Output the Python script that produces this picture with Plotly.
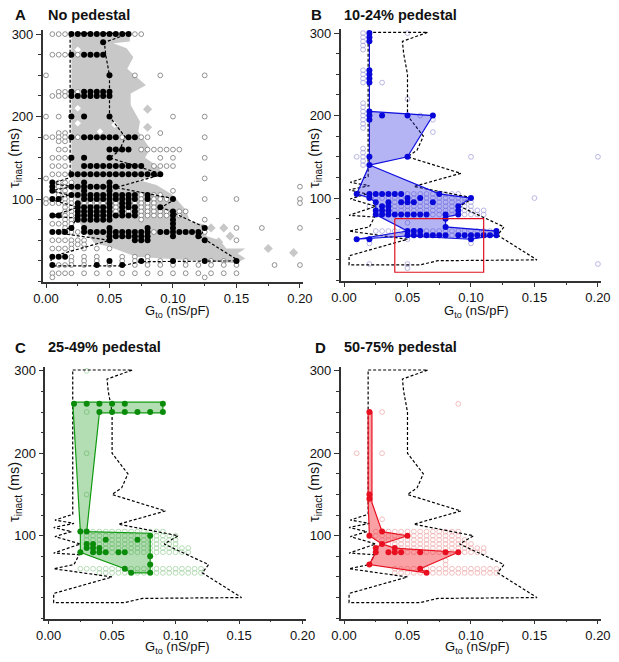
import plotly.graph_objects as go

# dashed outline of the no-pedestal region, repeated on all panels
OUTLINE_G = [0.019, 0.066, 0.046, 0.047, 0.05, 0.05, 0.0625, 0.0575, 0.05, 0.092, 0.055, 0.102, 0.091, 0.126, 0.121,
             0.152, 0.074, 0.06, 0.004, 0.004, 0.05, 0.004, 0.02, 0.024, 0.004, 0.025, 0.005, 0.018, 0.004, 0.02,
             0.005, 0.019, 0.019]
OUTLINE_TAU = [301, 301, 290, 275, 250, 200, 175, 158, 150, 130, 114, 100, 90, 65, 55,
               25, 24, 19, 19, 30, 50, 60, 65, 77, 79, 90, 99, 105, 110, 115,
               119, 126, 301]

# grey region of panel A
GREY_G = [0.02, 0.066, 0.066, 0.053, 0.0635, 0.0688, 0.064, 0.0787, 0.0667, 0.0667, 0.074, 0.0727, 0.082, 0.078, 0.087,
          0.0924, 0.0727, 0.087, 0.10, 0.11, 0.1134, 0.125, 0.1265, 0.137, 0.142, 0.157, 0.151, 0.157, 0.15, 0.098,
          0.071, 0.05, 0.0386, 0.03, 0.024, 0.024, 0.02]
GREY_TAU = [302, 302, 291, 289, 283, 272, 258, 238, 228, 214, 194, 182, 161, 150, 141,
            130, 123, 117, 105, 87, 73, 69, 55, 50, 40, 40, 34, 28, 22, 27,
            30, 42, 46, 62, 78, 98, 105]
BLOB_G = [0.08, 0.08, 0.13, 0.14, 0.145, 0.136, 0.175, 0.195]
BLOB_TAU = [209, 187, 65, 65, 55, 48, 40, 35]
HOLE_G = [0.025, 0.025, 0.025, 0.0425, 0.054, 0.025]
HOLE_TAU = [281, 210, 192, 182, 190, 230]

# panel A, filled = with dome
A_FILLED_TAU = [300, 290, 275, 250, 230, 225, 200, 175, 160, 150, 140, 130, 120, 115, 110, 105, 100, 95, 90, 85, 80,
                75, 70, 65, 60, 55, 50, 30, 25, 20]
A_FILLED_G = [
    [0.02, 0.025, 0.03, 0.035, 0.04, 0.045, 0.05, 0.055, 0.06, 0.065],
    [0.045],
    [0.02, 0.03, 0.035, 0.04, 0.045],
    [0.05],
    [0.02, 0.03, 0.035, 0.04, 0.045, 0.05],
    [0.02, 0.025, 0.03, 0.035, 0.04, 0.045, 0.05],
    [0.02, 0.03, 0.05],
    [0.02, 0.03, 0.035, 0.04, 0.045, 0.05, 0.055, 0.065, 0.07],
    [0.05, 0.055, 0.06, 0.065],
    [0.02, 0.03, 0.05],
    [0.03, 0.035, 0.04, 0.045, 0.05, 0.055, 0.06, 0.065, 0.07, 0.075],
    [0.02, 0.025, 0.03, 0.035, 0.04, 0.045, 0.05, 0.055, 0.06, 0.065, 0.07, 0.075, 0.08, 0.085, 0.09],
    [0.005, 0.03, 0.05],
    [0.005, 0.02, 0.025, 0.03, 0.035, 0.04, 0.045, 0.05, 0.055],
    [0.005, 0.03, 0.05],
    [0.02, 0.025, 0.03, 0.035, 0.04, 0.045, 0.05, 0.055, 0.06, 0.065, 0.07, 0.08],
    [0.005, 0.01, 0.03, 0.035, 0.04, 0.045, 0.05, 0.055, 0.06, 0.065, 0.07, 0.08, 0.10],
    [0.025, 0.05, 0.06, 0.065],
    [0.025, 0.03, 0.035, 0.04, 0.045, 0.05, 0.06, 0.065, 0.07, 0.09],
    [0.025, 0.03, 0.035, 0.04, 0.045, 0.05, 0.06, 0.07, 0.10],
    [0.005, 0.01, 0.025, 0.03, 0.035, 0.04, 0.045, 0.05, 0.055, 0.06, 0.065, 0.07, 0.10],
    [0.025, 0.03, 0.035, 0.04, 0.045, 0.05, 0.10],
    [0.10],
    [0.02, 0.03, 0.05, 0.08, 0.10, 0.125],
    [0.005, 0.01, 0.015, 0.03, 0.035, 0.04, 0.045, 0.05, 0.055, 0.06, 0.065, 0.07, 0.075, 0.08, 0.09, 0.095, 0.10,
     0.105, 0.11, 0.115, 0.12],
    [0.05, 0.055, 0.06, 0.065, 0.07, 0.075, 0.08, 0.10, 0.12],
    [0.05, 0.07, 0.075, 0.08, 0.125],
    [0.005, 0.01, 0.015],
    [0.05, 0.075, 0.10, 0.125, 0.15],
    [0.005, 0.04, 0.06],
]
A_OPEN_TAU = [300, 275, 250, 230, 225, 200, 180, 175, 170, 160, 150, 140, 130, 125, 120, 115, 110, 105, 100, 95, 90,
              85, 80, 75, 70, 65, 60, 50, 45, 40, 30, 25, 20, 10, 5]
A_OPEN_G = [
    [0.005, 0.01, 0.015, 0.07, 0.075],
    [0.005, 0.01, 0.015, 0.025],
    [0.0, 0.07, 0.09, 0.125],
    [0.01, 0.015, 0.025],
    [0.005, 0.01, 0.015],
    [0.0, 0.01, 0.10, 0.125],
    [0.01, 0.015, 0.09],
    [0.0, 0.005, 0.01, 0.015, 0.025, 0.06, 0.075, 0.08, 0.125],
    [0.01, 0.015],
    [0.01, 0.015, 0.075, 0.08, 0.085, 0.09, 0.095, 0.10, 0.105],
    [0.005, 0.01, 0.015, 0.09, 0.10, 0.125],
    [0.005, 0.01, 0.015, 0.085, 0.09, 0.095, 0.10],
    [0.005, 0.01, 0.015],
    [0.0, 0.125],
    [0.01, 0.015, 0.02],
    [0.01, 0.015, 0.2],
    [0.01, 0.015, 0.10],
    [0.01, 0.015, 0.075, 0.085, 0.09],
    [0.0, 0.015, 0.02, 0.075, 0.085, 0.09, 0.095, 0.125, 0.15, 0.2],
    [0.0, 0.005, 0.01, 0.015, 0.02, 0.03, 0.035, 0.04, 0.045, 0.055, 0.07, 0.075, 0.08, 0.085, 0.2],
    [0.015, 0.02, 0.055, 0.075, 0.08, 0.085],
    [0.015, 0.02, 0.055, 0.065, 0.075, 0.08, 0.085, 0.09, 0.095, 0.105, 0.11],
    [0.015, 0.02, 0.075, 0.08, 0.085, 0.09, 0.095, 0.105],
    [0.015, 0.02, 0.075, 0.125],
    [0.005, 0.01, 0.015, 0.02],
    [0.015, 0.15, 0.17, 0.2],
    [0.02, 0.025, 0.085, 0.125],
    [0.005, 0.01, 0.015, 0.02, 0.025, 0.03, 0.15],
    [0.02, 0.025, 0.03],
    [0.005, 0.01, 0.015, 0.02, 0.03, 0.04, 0.05],
    [0.02, 0.03, 0.04, 0.06, 0.07, 0.08],
    [0.02, 0.03, 0.04, 0.06, 0.07, 0.08, 0.09, 0.11, 0.13, 0.14],
    [0.01, 0.015, 0.02, 0.03, 0.05, 0.07, 0.08, 0.09, 0.10, 0.11, 0.12, 0.13, 0.14, 0.15, 0.18, 0.2],
    [0.005, 0.01, 0.015, 0.02, 0.03, 0.04, 0.05, 0.06, 0.07, 0.08, 0.09, 0.10, 0.11, 0.12, 0.13, 0.14, 0.15],
    [0.005, 0.125],
]

# panel B
B_FILLED_TAU = [300, 295, 290, 255, 250, 245, 240, 205, 200, 195, 150, 140, 105, 100, 95, 90, 85, 80, 75, 65, 60, 55, 50]
B_FILLED_G = [
    [0.02], [0.02], [0.02], [0.02], [0.02], [0.02], [0.02], [0.02],
    [0.02, 0.03, 0.05, 0.07],
    [0.02],
    [0.02, 0.05],
    [0.02],
    [0.01, 0.02, 0.025, 0.03, 0.035, 0.04, 0.045, 0.075],
    [0.02, 0.05, 0.06, 0.10],
    [0.025, 0.035, 0.045, 0.05, 0.055, 0.07],
    [0.03, 0.035, 0.09],
    [0.025, 0.03, 0.035, 0.09],
    [0.025, 0.03, 0.035, 0.04, 0.045, 0.05, 0.055, 0.06, 0.065, 0.08, 0.09],
    [0.08],
    [0.08],
    [0.05, 0.055, 0.06, 0.12],
    [0.05, 0.055, 0.06, 0.065, 0.07, 0.075, 0.08, 0.09, 0.095, 0.10, 0.105, 0.11, 0.115, 0.12],
    [0.01, 0.02, 0.10],
]
B_OPEN_TAU = [300, 295, 290, 285, 280, 255, 250, 245, 240, 220, 215, 210, 205, 200, 195, 190, 185, 180, 160, 155, 150,
              145, 140, 105, 100, 95, 90, 85, 80, 70, 60, 55, 50, 45, 20, 15]
B_OPEN_G = [
    [0.015, 0.05], [0.015], [0.015], [0.015], [0.015],
    [0.015], [0.015], [0.015], [0.015, 0.03],
    [0.05], [0.015], [0.015], [0.015], [0.015, 0.06], [0.015, 0.07], [0.015], [0.015], [0.07],
    [0.015], [0.015], [0.01, 0.015, 0.10, 0.20], [0.015], [0.015],
    [0.05, 0.055, 0.06, 0.065, 0.07, 0.08, 0.085, 0.09],
    [0.025, 0.03, 0.035, 0.04, 0.045, 0.055, 0.065, 0.07, 0.075, 0.08, 0.085, 0.09, 0.095, 0.15],
    [0.04, 0.06, 0.065, 0.075, 0.08, 0.085, 0.09, 0.095, 0.10],
    [0.02, 0.04, 0.045, 0.05, 0.055, 0.06, 0.065, 0.07, 0.075, 0.08, 0.085, 0.095, 0.10],
    [0.04, 0.045, 0.05, 0.055, 0.06, 0.065, 0.07, 0.075, 0.08, 0.085, 0.095, 0.10, 0.105, 0.11],
    [0.07, 0.075, 0.085, 0.095, 0.10, 0.105, 0.11],
    [0.05],
    [0.025, 0.03, 0.035, 0.04, 0.045, 0.065, 0.07, 0.075, 0.08, 0.085, 0.09, 0.095, 0.10, 0.105, 0.11, 0.115],
    [0.085],
    [0.05],
    [0.02, 0.10],
    [0.02, 0.05, 0.20],
    [0.05],
]

# panel C
C_FILLED_TAU = [260, 250, 105, 100, 95, 90, 85, 80, 75, 65, 60, 55]
C_FILLED_G = [
    [0.02, 0.03, 0.04, 0.05, 0.06, 0.09],
    [0.04, 0.05, 0.06, 0.07, 0.08, 0.09],
    [0.025, 0.03],
    [0.08],
    [0.045, 0.07],
    [0.03, 0.035],
    [0.03, 0.035, 0.04],
    [0.025, 0.035, 0.04, 0.045, 0.055, 0.06],
    [0.08],
    [0.08],
    [0.06],
    [0.065, 0.08],
]
C_OPEN_TAU = [300, 250, 200, 150, 105, 100, 95, 90, 85, 80, 60, 55]
C_OPEN_G = [
    [0.03], [0.03], [0.03], [0.03],
    [0.035, 0.04, 0.045, 0.05, 0.055, 0.06, 0.065, 0.07, 0.075, 0.08, 0.085, 0.09],
    [0.03, 0.035, 0.04, 0.045, 0.05, 0.055, 0.06, 0.065, 0.07, 0.075, 0.085, 0.09, 0.095, 0.10],
    [0.03, 0.035, 0.04, 0.05, 0.055, 0.06, 0.065, 0.075, 0.08, 0.085, 0.09, 0.095, 0.10],
    [0.04, 0.045, 0.05, 0.055, 0.06, 0.065, 0.07, 0.075, 0.08, 0.085, 0.09, 0.095, 0.10],
    [0.045, 0.05, 0.055, 0.06, 0.065, 0.07, 0.075, 0.08, 0.085, 0.09, 0.095, 0.10, 0.105, 0.11],
    [0.05, 0.065, 0.07, 0.075, 0.08, 0.085, 0.09, 0.095, 0.10, 0.105, 0.11],
    [0.025, 0.03, 0.035, 0.04, 0.045, 0.05, 0.055, 0.065, 0.07, 0.075, 0.08, 0.085, 0.09, 0.095, 0.10, 0.105, 0.11,
     0.115, 0.12],
    [0.04, 0.045, 0.05, 0.055, 0.06, 0.07, 0.075, 0.085, 0.09, 0.095, 0.10, 0.105, 0.11, 0.115, 0.12],
]

# panel D
D_FILLED_TAU = [250, 150, 145, 105, 100, 90, 85, 80, 65, 60, 55]
D_FILLED_G = [
    [0.02],
    [0.02],
    [0.02],
    [0.03],
    [0.02, 0.05],
    [0.03],
    [0.025, 0.04],
    [0.025, 0.035, 0.04, 0.045, 0.06, 0.08, 0.09],
    [0.02],
    [0.06],
    [0.065],
]
D_OPEN_TAU = [260, 250, 200, 120, 105, 100, 95, 90, 85, 80, 70, 65, 60, 55]
D_OPEN_G = [
    [0.09], [0.03], [0.01, 0.03], [0.03],
    [0.025, 0.035, 0.04, 0.045, 0.05, 0.055, 0.06, 0.065, 0.07, 0.075, 0.08, 0.085, 0.09],
    [0.025, 0.03, 0.035, 0.04, 0.045, 0.055, 0.06, 0.065, 0.07, 0.075, 0.08, 0.085, 0.09],
    [0.03, 0.035, 0.04, 0.045, 0.05, 0.055, 0.06, 0.065, 0.07, 0.075, 0.08, 0.085, 0.09, 0.095],
    [0.035, 0.04, 0.045, 0.05, 0.055, 0.06, 0.065, 0.07, 0.075, 0.08, 0.085, 0.09, 0.095, 0.10],
    [0.045, 0.05, 0.055, 0.06, 0.065, 0.07, 0.075, 0.08, 0.085, 0.09, 0.095, 0.10, 0.105, 0.11],
    [0.05, 0.055, 0.065, 0.07, 0.075, 0.085, 0.095, 0.10, 0.105, 0.11],
    [0.08],
    [0.08],
    [0.04, 0.045, 0.05, 0.055, 0.065, 0.07, 0.075, 0.08, 0.085, 0.09, 0.095, 0.10, 0.105, 0.11, 0.115, 0.12],
    [0.04, 0.045, 0.05, 0.055, 0.06, 0.07, 0.075, 0.08, 0.085, 0.09, 0.095, 0.10, 0.105, 0.11, 0.115, 0.12],
]

# shaded envelopes
B_ENV_G = [0.02, 0.02, 0.07, 0.05, 0.02, 0.075, 0.10, 0.09, 0.09, 0.08, 0.08, 0.12, 0.12, 0.10, 0.05, 0.01, 0.05,
           0.025, 0.025, 0.02, 0.01, 0.02, 0.02, 0.02]
B_ENV_TAU = [300, 205, 200, 150, 140, 105, 100, 90, 80, 77, 65, 60, 55, 50, 54, 50, 60,
             80, 95, 100, 105, 140, 205, 300]
C_ENV_G = [0.019, 0.09, 0.09, 0.04, 0.03, 0.08, 0.08, 0.065, 0.06, 0.025, 0.025, 0.019]
C_ENV_TAU = [262, 262, 249, 249, 105, 103, 55, 55, 60, 80, 105, 262]
D_ENV_G = [0.019, 0.022, 0.022, 0.03, 0.05, 0.03, 0.04, 0.09, 0.06, 0.065, 0.02, 0.025, 0.025, 0.03, 0.02, 0.019, 0.019]
D_ENV_TAU = [250, 250, 140, 105, 100, 90, 85, 80, 60, 55, 65, 80, 85, 90, 100, 140, 250]
# red box on panel B
BOX_G = [0.04, 0.11, 0.11, 0.04, 0.04]
BOX_TAU = [75, 75, 10, 10, 75]

PANEL_TITLES = ["No pedestal", "10-24% pedestal", "25-49% pedestal", "50-75% pedestal"]
PANEL_LETTERS = ["A", "B", "C", "D"]
X_TITLE = "G<sub>to</sub> (nS/pF)"
Y_TITLE = "τ<sub>inact</sub> (ms)"
X_TICKS = [0, 0.05, 0.10, 0.15, 0.20]
Y_TICKS = [100, 200, 300]

W, H = 619, 662
FONT = "Liberation Sans"
AXCOL = "#333333"


def flat(taus, rows):
    xs, ys = [], []
    for t, row in zip(taus, rows):
        for g in row:
            xs.append(g)
            ys.append(t)
    return xs, ys


def outline(ax):
    return go.Scatter(x=OUTLINE_G, y=OUTLINE_TAU, mode="lines", line=dict(color="black", width=1.2, dash="3px,2px"),
                      xaxis="x" + ax, yaxis="y" + ax, hoverinfo="skip", showlegend=False)


def dots(xs, ys, ax, color, size=6, open_dot=False, fill="rgba(0,0,0,0)"):
    if open_dot:
        mk = dict(size=size, color=fill, line=dict(color=color, width=0.8))
    else:
        mk = dict(size=size, color=color)
    return go.Scatter(x=xs, y=ys, mode="markers", marker=mk, xaxis="x" + ax, yaxis="y" + ax,
                      hoverinfo="skip", showlegend=False)


def envelope(xs, ys, ax, line, fill):
    return go.Scatter(x=xs, y=ys, mode="lines", fill="toself", fillcolor=fill, line=dict(color=line, width=1.2),
                      xaxis="x" + ax, yaxis="y" + ax, hoverinfo="skip", showlegend=False)


def label(text, px, py, size, angle=0, anchor="center"):
    return dict(text=text, x=px / W, y=1 - py / H, xref="paper", yref="paper", xanchor=anchor, yanchor="middle",
                showarrow=False, textangle=angle, font=dict(family=FONT, size=size, color="#111111"))


fig = go.Figure()

# A
fig.add_trace(go.Scatter(x=GREY_G, y=GREY_TAU, mode="lines", fill="toself", fillcolor="#c8c8c8", line=dict(width=0),
                         xaxis="x", yaxis="y", hoverinfo="skip", showlegend=False))
fig.add_trace(go.Scatter(x=BLOB_G, y=BLOB_TAU, mode="markers", marker=dict(symbol="diamond", size=7, color="#c8c8c8"),
                         xaxis="x", yaxis="y", hoverinfo="skip", showlegend=False))
fig.add_trace(go.Scatter(x=HOLE_G, y=HOLE_TAU, mode="markers", marker=dict(symbol="diamond", size=5, color="white"),
                         xaxis="x", yaxis="y", hoverinfo="skip", showlegend=False))
x, y = flat(A_OPEN_TAU, A_OPEN_G)
fig.add_trace(dots(x, y, "", "#777777", 4.8, True, "white"))
fig.add_trace(outline(""))
x, y = flat(A_FILLED_TAU, A_FILLED_G)
fig.add_trace(dots(x, y, "", "black"))

# B
x, y = flat(B_OPEN_TAU, B_OPEN_G)
fig.add_trace(dots(x, y, "2", "#a8a6dc", 4.8, True))
fig.add_trace(outline("2"))
fig.add_trace(envelope(B_ENV_G, B_ENV_TAU, "2", "#1010e0", "rgba(40,40,225,0.35)"))
x, y = flat(B_FILLED_TAU, B_FILLED_G)
fig.add_trace(dots(x, y, "2", "#0808d8"))
fig.add_trace(go.Scatter(x=BOX_G, y=BOX_TAU, mode="lines", line=dict(color="#e01020", width=1.2), xaxis="x2",
                         yaxis="y2", hoverinfo="skip", showlegend=False))

# C
x, y = flat(C_OPEN_TAU, C_OPEN_G)
fig.add_trace(dots(x, y, "3", "#a6d4a6", 4.8, True))
fig.add_trace(outline("3"))
fig.add_trace(envelope(C_ENV_G, C_ENV_TAU, "3", "#109a10", "rgba(20,150,20,0.32)"))
x, y = flat(C_FILLED_TAU, C_FILLED_G)
fig.add_trace(dots(x, y, "3", "#0a8c0a"))

# D
x, y = flat(D_OPEN_TAU, D_OPEN_G)
fig.add_trace(dots(x, y, "4", "#f0b0b0", 4.8, True))
fig.add_trace(outline("4"))
fig.add_trace(envelope(D_ENV_G, D_ENV_TAU, "4", "#e81020", "rgba(240,30,40,0.42)"))
x, y = flat(D_FILLED_TAU, D_FILLED_G)
fig.add_trace(dots(x, y, "4", "#e81020"))

# panel rectangles in page pixels: left, right, top, bottom
rects = [(42.7, 303, 30, 282), (340.7, 601, 29, 281), (45.3, 305.6, 366.7, 618.7), (340.7, 601, 366.7, 618.7)]
letter_xs = [13, 309, 13, 313]
title_xs = [46, 342, 46, 342]
title_ys = [15, 15, 347, 347]
xtitle_pos = [(177, 311), (476, 311), (177, 647), (477.5, 647)]
ytitle_pos = [(15, 158), (315, 158), (15, 492), (315, 492)]

layout = {}
annos = []
for i, (l, r, t, b) in enumerate(rects):
    sfx = "" if i == 0 else str(i + 1)
    layout["xaxis" + sfx] = dict(
        domain=[l / W, r / W], range=[-0.0026, 0.2024], anchor="y" + sfx, tickvals=X_TICKS, tickformat=".2f",
        automargin=False, ticks="outside", ticklen=4, tickwidth=1, tickcolor=AXCOL, showgrid=False, zeroline=False,
        showline=True, linecolor=AXCOL, linewidth=1.5, tickfont=dict(family=FONT, size=13, color="#111111"),
        minor=dict(dtick=0.025, tick0=0, ticks="outside", ticklen=2, tickcolor=AXCOL, showgrid=False))
    layout["yaxis" + sfx] = dict(
        domain=[1 - b / H, 1 - t / H], range=[-0.6, 305], anchor="x" + sfx, tickvals=Y_TICKS,
        automargin=False, ticks="outside", ticklen=5, tickwidth=1, tickcolor=AXCOL, showgrid=False, zeroline=False,
        showline=True, linecolor=AXCOL, linewidth=1.5, tickfont=dict(family=FONT, size=13, color="#111111"),
        minor=dict(dtick=25, tick0=0, ticks="outside", ticklen=3, tickcolor=AXCOL, showgrid=False))
    annos.append(label("<b>%s</b>" % PANEL_LETTERS[i], letter_xs[i], title_ys[i], 15, anchor="left"))
    annos.append(label("<b>%s</b>" % PANEL_TITLES[i], title_xs[i], title_ys[i], 14.5, anchor="left"))
    annos.append(label(X_TITLE, xtitle_pos[i][0], xtitle_pos[i][1], 13))
    annos.append(label(Y_TITLE, ytitle_pos[i][0], ytitle_pos[i][1], 14.5, angle=-90))

fig.update_layout(width=W, height=H, margin=dict(l=0, r=0, t=0, b=0, pad=0), autosize=False, plot_bgcolor="white",
                  paper_bgcolor="white", showlegend=False, annotations=annos, **layout)
fig.write_html("out.html", config=dict(displayModeBar=False), post_script="document.body.style.margin='0';")
